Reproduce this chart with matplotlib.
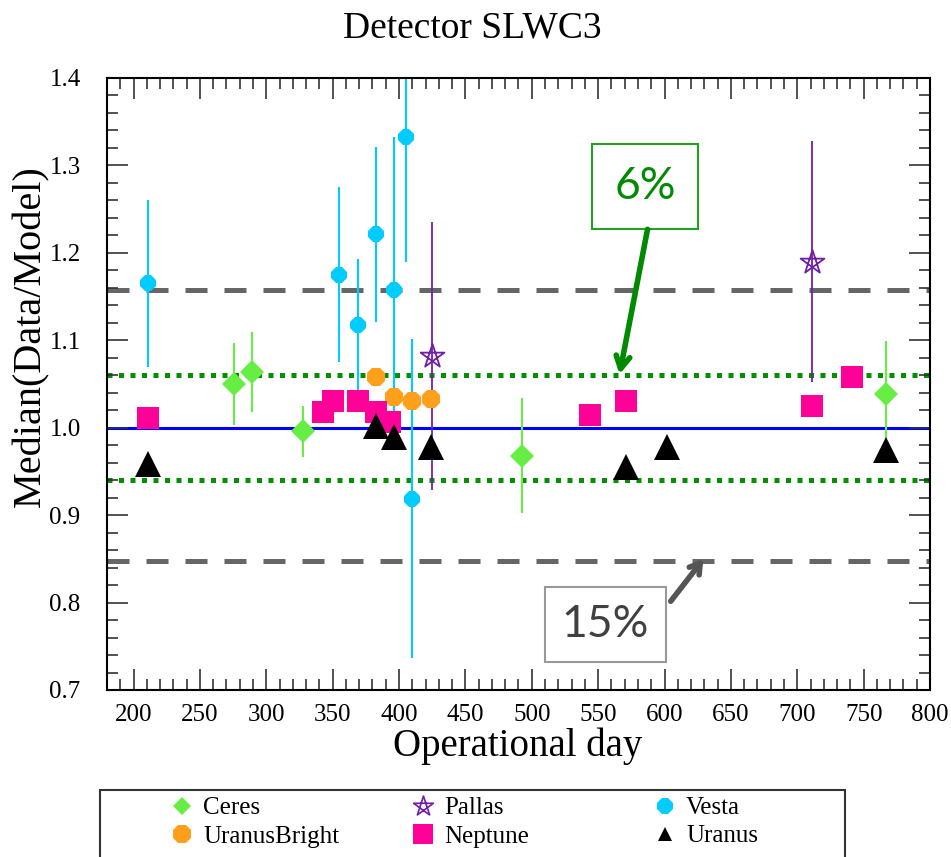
import numpy as np
import matplotlib.pyplot as plt
from matplotlib.lines import Line2D
from matplotlib.patches import Rectangle
from matplotlib.path import Path
from matplotlib.ticker import MultipleLocator

plt.rcParams['font.family'] = ['Liberation Serif', 'DejaVu Serif']

# median data/model ratio per operational day, one set per source
ceres_day = [276, 289, 328, 493, 767]
ceres_ratio = [1.050, 1.064, 0.996, 0.968, 1.038]
ceres_err = [0.047, 0.046, 0.029, 0.066, 0.061]

pallas_day = [425, 711]
pallas_ratio = [1.082, 1.190]
pallas_err = [0.153, 0.138]

vesta_day = [211, 355, 369, 383, 396, 405, 410]
vesta_ratio = [1.165, 1.175, 1.117, 1.221, 1.158, 1.333, 0.919]
vesta_err = [0.096, 0.100, 0.076, 0.100, 0.174, 0.143, 0.182]

uranusbright_day = [383, 396, 410, 424]
uranusbright_ratio = [1.058, 1.035, 1.030, 1.033]

neptune_day = [211, 343, 350, 369, 383, 393, 544, 571, 711, 741]
neptune_ratio = [1.011, 1.018, 1.031, 1.031, 1.018, 1.007, 1.015, 1.031, 1.025, 1.058]

uranus_day = [211, 383, 396, 424, 571, 602, 767]
uranus_ratio = [0.959, 1.002, 0.989, 0.978, 0.955, 0.978, 0.975]

# reference levels: unity, 6% and 15% bands
unity = 1.0
band6 = [1.06, 0.94]
band15 = [1.157, 0.848]

c_ceres = '#66ee44'
c_pallas = '#7020a8'
c_vesta = '#00ccff'
c_ubright = '#ff9f1c'
c_neptune = '#ff0099'
c_uranus = 'black'

# pentagram outline (star with the inner pentagon showing)
ang = np.pi / 2 + np.arange(5) * 2 * np.pi / 5
pts = np.column_stack([np.cos(ang), np.sin(ang)])
order = [0, 2, 4, 1, 3, 0]
pentagram = Path(pts[order], [Path.MOVETO] + [Path.LINETO] * 4 + [Path.CLOSEPOLY])

fig = plt.figure(figsize=(9.51, 8.57), dpi=100)
ax = fig.add_axes([107/951, 1-690/857, 823/951, 612/857])

ax.axhline(unity, color='#0000ff', lw=2.2, zorder=1)
for y in band6:
    ax.axhline(y, color='#009000', lw=3.6, ls=(0, (1.0, 1.3)), zorder=1)
for y in band15:
    ax.axhline(y, color='#666666', lw=3.6, ls=(0, (4.4, 3.4)), zorder=1)

ax.errorbar(ceres_day, ceres_ratio, yerr=ceres_err, fmt='none', ecolor=c_ceres, elinewidth=1.5, zorder=2)
ax.errorbar(vesta_day, vesta_ratio, yerr=vesta_err, fmt='none', ecolor=c_vesta, elinewidth=1.5, zorder=2)
ax.errorbar(pallas_day, pallas_ratio, yerr=pallas_err, fmt='none', ecolor=c_pallas, elinewidth=1.3, zorder=2)

ax.plot(ceres_day, ceres_ratio, 'D', color=c_ceres, ms=12.5, mew=0, zorder=3)
ax.plot(vesta_day, vesta_ratio, '8', color=c_vesta, ms=13, mew=0, zorder=3)
ax.plot(uranusbright_day, uranusbright_ratio, '8', color=c_ubright, ms=14, mew=0, zorder=3)
ax.plot(neptune_day, neptune_ratio, 's', color=c_neptune, ms=15.5, mew=0, zorder=3)
ax.plot(uranus_day, uranus_ratio, '^', color=c_uranus, ms=19, mew=0, zorder=4)
ax.plot(pallas_day, pallas_ratio, ls='none', marker=pentagram, mfc='none', mec=c_pallas, ms=18, mew=1.3, zorder=5)

ax.set_xlim(180, 800)
ax.set_ylim(0.7, 1.4)
ax.xaxis.set_major_locator(MultipleLocator(50))
ax.xaxis.set_minor_locator(MultipleLocator(10))
ax.yaxis.set_major_locator(MultipleLocator(0.1))
ax.yaxis.set_minor_locator(MultipleLocator(0.02))
ax.yaxis.set_major_formatter(lambda v, p: f'{v:.1f}')
ax.tick_params(which='both', direction='in', top=True, right=True, color='#333333', width=1.2)
ax.tick_params(which='major', length=15)
ax.tick_params(which='minor', length=8)
ax.tick_params(axis='x', labelsize=18, pad=10)
ax.tick_params(axis='y', labelsize=18, pad=19)
for s in ax.spines.values():
    s.set_linewidth(1.5)

fig.text(472/951, 1-28/857, 'Detector SLWC3', ha='center', va='center', fontsize=27)
fig.text(518/951, 1-746/857, 'Operational day', ha='center', va='center', fontsize=28)
fig.text(31/951, 1-336/857, 'Median(Data/Model)', ha='center', va='center', rotation=90, fontsize=29)

# annotation boxes for the 6% and 15% bands
ax.text(585.6, 1.276, '6%', ha='center', va='center', fontsize=32, color='#008a00', family='Lato',
        bbox=dict(boxstyle='square,pad=0.5', fc='white', ec='#22a022', lw=1.5))
ax.annotate('', xy=(565.7, 1.058), xytext=(587.6, 1.230),
            arrowprops=dict(arrowstyle='->,head_length=0.9,head_width=0.5', color='#008a00', lw=4))
ax.text(555.5, 0.775, '15%', ha='center', va='center', fontsize=32, color='#404040', family='Lato',
        bbox=dict(boxstyle='square,pad=0.38', fc='white', ec='#999999', lw=1.5))
ax.annotate('', xy=(630.5, 0.852), xytext=(603.4, 0.799),
            arrowprops=dict(arrowstyle='->,head_length=0.7,head_width=0.45', color='#555555', lw=4))

# legend laid out as three fixed columns inside one frame
fig.add_artist(Rectangle((100/951, 1-880/857), 745/951, 90/857, transform=fig.transFigure,
                         fill=False, ec='#333333', lw=1.5))
columns = [
    [('Ceres', 'D', c_ceres, 9.5), ('UranusBright', '8', c_ubright, 14)],
    [('Pallas', pentagram, c_pallas, 15), ('Neptune', 's', c_neptune, 14)],
    [('Vesta', '8', c_vesta, 13), ('Uranus', '^', c_uranus, 10.5)],
]
col_x = [168, 409, 651]
for x0, entries in zip(col_x, columns):
    handles = []
    for name, m, c, size in entries:
        if name == 'Pallas':
            h = Line2D([], [], ls='none', marker=m, mfc='none', mec=c, ms=size, mew=1.2, label=name)
        else:
            h = Line2D([], [], ls='none', marker=m, color=c, ms=size, mew=0, label=name)
        handles.append(h)
    fig.legend(handles=handles, loc='upper left', bbox_to_anchor=(x0/951, 1-797/857),
               frameon=False, fontsize=18, handlelength=1.1, handletextpad=0.3,
               labelspacing=0.22, borderpad=0, borderaxespad=0)

fig.savefig('out.png', dpi=100)
